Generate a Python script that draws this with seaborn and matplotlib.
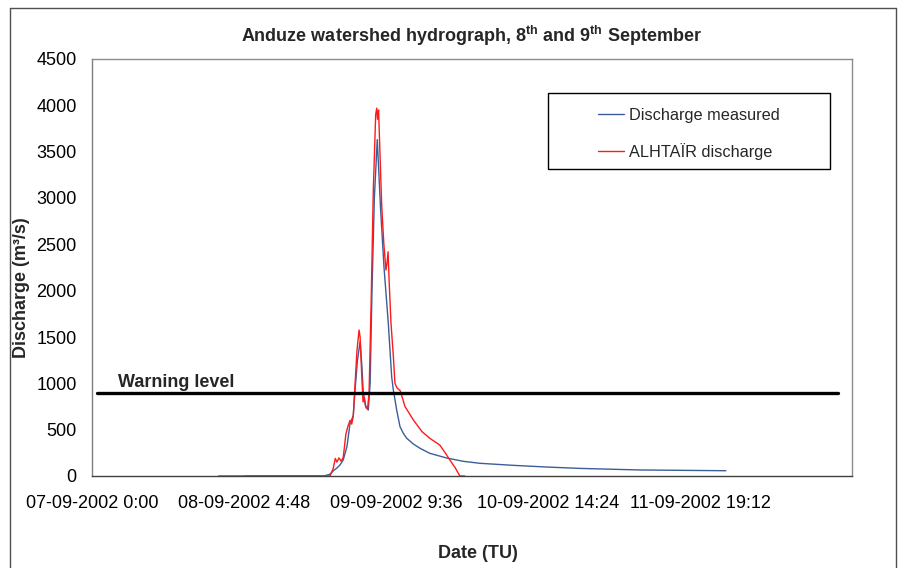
import matplotlib
matplotlib.use("Agg")
import matplotlib.pyplot as plt
from matplotlib.patches import Rectangle
from matplotlib.lines import Line2D
import pandas as pd
import seaborn as sns

# Hours elapsed since 07-09-2002 0:00 (TU) and discharge in m3/s
measured_hours = [24.0, 44.0, 45.1, 45.8, 46.4, 47.0, 47.6, 48.3, 48.9, 49.5, 49.8,
                  50.3, 50.8, 51.1, 51.4, 51.8, 52.35, 52.7, 53.05, 53.5, 54.05,
                  54.66, 55.33, 56.14, 56.78, 57.09, 57.73, 58.36, 59.0, 59.63,
                  60.9, 62.15, 64.0, 67.21, 70.4, 73.51, 79.8, 86.1, 92.46,
                  103.83, 120.1]
measured_q = [0, 0, 20, 60, 86, 120, 173, 316, 570, 650, 900,
              1250, 1450, 1216, 900, 760, 712, 1000, 2000, 3000, 3630,
              2900, 2250, 1650, 1070, 930, 712, 532, 460, 407,
              345, 299, 245, 194, 158, 137, 115, 97, 82,
              65, 57]

alhtair_hours = [29.0, 45.1, 45.7, 46.1, 46.4, 46.8, 47.2, 47.6, 48.1, 48.5, 48.9,
                 49.2, 49.5, 49.8, 50.2, 50.6, 50.8, 51.1, 51.35, 51.6, 51.9,
                 52.2, 52.5, 52.9, 53.3, 53.75, 53.95, 54.1, 54.3, 54.55, 54.9,
                 55.3, 55.7, 55.9, 56.1, 56.3, 56.65, 57.1, 57.4, 57.8, 58.4,
                 59.3, 60.9, 62.5, 64.0, 65.9, 66.8, 67.8, 68.8, 69.7, 70.6]
alhtair_q = [0, 0, 80, 190, 150, 195, 160, 200, 450, 540, 600,
             560, 640, 950, 1350, 1575, 1500, 1100, 800, 850, 740,
             720, 900, 1900, 3085, 3900, 3970, 3850, 3950, 3500, 2905,
             2500, 2222, 2300, 2420, 2100, 1650, 1290, 1000, 950, 920,
             750, 604, 480, 407, 334, 260, 173, 90, 0, 0]

warning_level = 900
series_labels = ["Discharge measured", "ALHTAÏR discharge"]
x_tick_labels = ["07-09-2002 0:00", "08-09-2002 4:48", "09-09-2002 9:36",
                 "10-09-2002 14:24", "11-09-2002 19:12"]
y_ticks = [0, 500, 1000, 1500, 2000, 2500, 3000, 3500, 4000, 4500]

start = pd.Timestamp("2002-09-07 00:00")
tick_step = pd.Timedelta(hours=28.8)

measured = pd.DataFrame({
    "Date": start + pd.to_timedelta(measured_hours, unit="h"),
    "Discharge": measured_q,
})
alhtair = pd.DataFrame({
    "Date": start + pd.to_timedelta(alhtair_hours, unit="h"),
    "Discharge": alhtair_q,
})

sns.set_theme(style="white")
plt.rcParams["font.family"] = ["Liberation Sans", "DejaVu Sans"]
plt.rcParams["mathtext.fontset"] = "custom"
plt.rcParams["mathtext.rm"] = "Liberation Sans"
plt.rcParams["mathtext.bf"] = "Liberation Sans:bold"

fig = plt.figure(figsize=(9.1, 5.68), dpi=100)
ax = fig.add_axes([92 / 910, 1 - 476 / 568, 760 / 910, 417 / 568])

blue = "#3b5e9b"
red = "#ff1a1a"
sns.lineplot(data=measured, x="Date", y="Discharge", ax=ax, color=blue,
             linewidth=1.0, sort=False, estimator=None)
sns.lineplot(data=alhtair, x="Date", y="Discharge", ax=ax, color=red,
             linewidth=1.0, sort=False, estimator=None)

ax.axhline(warning_level, xmin=0.0066, xmax=0.982, color="black", linewidth=2.4)
ax.text(0.034, 0.213, "Warning level", transform=ax.transAxes,
        fontsize=13, fontweight="bold", va="baseline", ha="left")

ax.set_xlim(start, start + pd.Timedelta(days=6))
ax.set_ylim(0, 4500)
ax.set_xticks([start + k * tick_step for k in range(len(x_tick_labels))])
ax.set_xticklabels(x_tick_labels)
ax.set_yticks(y_ticks)
ax.set_yticklabels([str(v) for v in y_ticks])

ax.tick_params(axis="both", labelsize=13, direction="out", length=5, width=1,
               colors="black")
ax.tick_params(axis="x", pad=9, color="#404040")
ax.tick_params(axis="y", pad=6, color="#7f7f7f")

ax.spines["left"].set_color("#7f7f7f")
ax.spines["bottom"].set_color("#404040")
ax.spines["top"].set_color("#8c8c8c")
ax.spines["right"].set_color("#8c8c8c")
for s in ax.spines.values():
    s.set_linewidth(1.0)

ax.set_xlabel("Date (TU)", fontsize=13, fontweight="bold")
ax.set_ylabel("Discharge (m³/s)", fontsize=13, fontweight="bold")
ax.xaxis.set_label_coords(0.508, -0.165)
ax.yaxis.set_label_coords(-0.082, 0.451)

fig.text(471 / 910, 1 - 36 / 568,
         r"Anduze watershed hydrograph, 8$^{\mathbf{th}}$ and 9$^{\mathbf{th}}$ September",
         fontsize=13, fontweight="bold", ha="center", va="center")

# Legend box with centred entries
box_l, box_r = (548 - 92) / 760, (830 - 92) / 760
box_b, box_t = (476 - 169) / 417, (476 - 93) / 417
ax.add_patch(Rectangle((box_l, box_b), box_r - box_l, box_t - box_b,
                       transform=ax.transAxes, fill=True, facecolor="white",
                       edgecolor="black", linewidth=1.0, zorder=5))
handles = [Line2D([], [], color=blue, linewidth=1.0),
           Line2D([], [], color=red, linewidth=1.0)]
ax.legend(handles, series_labels, frameon=False, loc="center",
          bbox_to_anchor=((box_l + box_r) / 2, (box_b + box_t) / 2 - 3 / 417),
          bbox_transform=ax.transAxes, fontsize=11.7, handlelength=1.6,
          handletextpad=0.35, labelspacing=1.25).set_zorder(6)

# Chart area border
for xs, ys in [((10 / 910, 10 / 910), (0, 1 - 8 / 568)),
               ((10 / 910, 896 / 910), (1 - 8 / 568, 1 - 8 / 568)),
               ((896 / 910, 896 / 910), (1 - 8 / 568, 0))]:
    fig.add_artist(Line2D(xs, ys, transform=fig.transFigure, color="#505050",
                          linewidth=1.0))

fig.savefig("out.png", dpi=100, facecolor="white")
